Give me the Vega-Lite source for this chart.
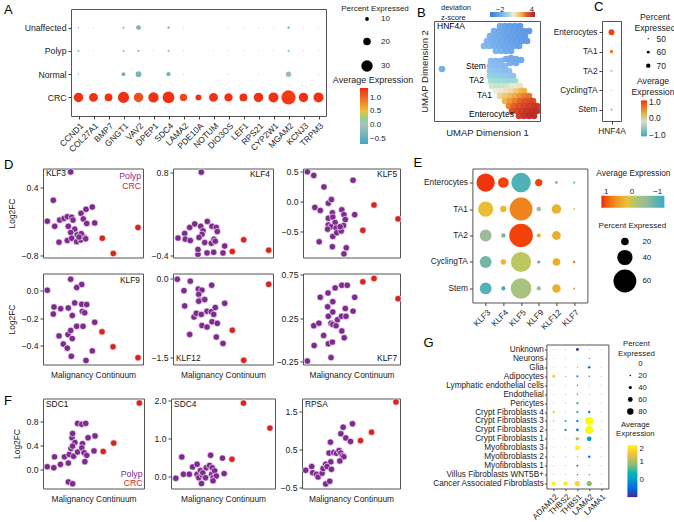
{
"$schema": "https://vega.github.io/schema/vega-lite/v6.json",
"padding": {"left": 3, "top": 0, "right": 0, "bottom": 0},
"background": "white",
"config": {
  "font": "Liberation Sans",
  "view": {"stroke": "#555", "strokeWidth": 1},
  "axis": {"grid": false, "domain": false, "tickColor": "#444", "tickSize": 3, "labelFontSize": 8.7, "labelColor": "#222", "titleFontSize": 8.4, "titleFontWeight": "normal", "titleColor": "#222", "labelPadding": 2},
  "legend": {"titleFontWeight": "normal", "titleFontSize": 8, "labelFontSize": 8, "titleColor": "#222", "labelColor": "#222", "titlePadding": 3},
  "title": {"fontSize": 13, "fontWeight": "normal", "anchor": "start", "frame": "group", "color": "#000", "baseline": "alphabetic"},
  "text": {"fontSize": 8.4}
},
"datasets": {
  "a": [
    {"gene":"CCND1","group":"CRC","pct":25,"avg":1.3},{"gene":"COL27A1","group":"CRC","pct":23.4,"avg":1.3},{"gene":"BMP7","group":"CRC","pct":20.4,"avg":1.3},{"gene":"GNGT1","group":"CRC","pct":29.7,"avg":1.3},{"gene":"VAV2","group":"CRC","pct":25,"avg":1.15},{"gene":"DPEP1","group":"CRC","pct":27.4,"avg":1.3},{"gene":"SDC4","group":"CRC","pct":31,"avg":1.3},{"gene":"LAMA2","group":"CRC","pct":19.4,"avg":1.2},{"gene":"PDE10A","group":"CRC","pct":15.7,"avg":1.3},{"gene":"NOTUM","group":"CRC","pct":23.4,"avg":1.3},{"gene":"DIO3OS","group":"CRC","pct":21.8,"avg":1.3},{"gene":"LEF1","group":"CRC","pct":21,"avg":1.3},{"gene":"RPS21","group":"CRC","pct":25,"avg":1.3},{"gene":"CYP2W1","group":"CRC","pct":26.4,"avg":1.3},{"gene":"MGAM2","group":"CRC","pct":37.4,"avg":1.25},{"gene":"KCNJ3","group":"CRC","pct":25,"avg":1.3},{"gene":"TRPM3","group":"CRC","pct":26.4,"avg":1.3},
    {"gene":"CCND1","group":"Unaffected","pct":3,"avg":-0.5},{"gene":"COL27A1","group":"Unaffected","pct":2.5,"avg":-0.5},{"gene":"GNGT1","group":"Unaffected","pct":5,"avg":-0.6},{"gene":"VAV2","group":"Unaffected","pct":13,"avg":-0.3},{"gene":"SDC4","group":"Unaffected","pct":6,"avg":-0.55},{"gene":"LAMA2","group":"Unaffected","pct":2.5,"avg":-0.5},{"gene":"DIO3OS","group":"Unaffected","pct":2.5,"avg":-0.5},{"gene":"LEF1","group":"Unaffected","pct":2.5,"avg":-0.5},{"gene":"RPS21","group":"Unaffected","pct":2.5,"avg":-0.5},{"gene":"CYP2W1","group":"Unaffected","pct":2.5,"avg":-0.5},{"gene":"MGAM2","group":"Unaffected","pct":6,"avg":-0.55},{"gene":"KCNJ3","group":"Unaffected","pct":2.5,"avg":-0.5},{"gene":"TRPM3","group":"Unaffected","pct":2.5,"avg":-0.5},
    {"gene":"CCND1","group":"Polyp","pct":4.5,"avg":-0.55},{"gene":"COL27A1","group":"Polyp","pct":2.5,"avg":-0.5},{"gene":"GNGT1","group":"Polyp","pct":4.5,"avg":-0.6},{"gene":"VAV2","group":"Polyp","pct":5,"avg":-0.65},{"gene":"DPEP1","group":"Polyp","pct":2.5,"avg":-0.5},{"gene":"SDC4","group":"Polyp","pct":5,"avg":-0.6},{"gene":"LAMA2","group":"Polyp","pct":2.5,"avg":-0.5},{"gene":"NOTUM","group":"Polyp","pct":2.5,"avg":-0.5},{"gene":"DIO3OS","group":"Polyp","pct":2.5,"avg":-0.5},{"gene":"LEF1","group":"Polyp","pct":2.5,"avg":-0.5},{"gene":"RPS21","group":"Polyp","pct":2.5,"avg":-0.5},{"gene":"CYP2W1","group":"Polyp","pct":2.5,"avg":-0.5},{"gene":"MGAM2","group":"Polyp","pct":5,"avg":-0.6},{"gene":"KCNJ3","group":"Polyp","pct":2.5,"avg":-0.5},{"gene":"TRPM3","group":"Polyp","pct":2.5,"avg":-0.5},
    {"gene":"CCND1","group":"Normal","pct":3,"avg":-0.5},{"gene":"GNGT1","group":"Normal","pct":10.5,"avg":-0.4},{"gene":"VAV2","group":"Normal","pct":15,"avg":-0.35},{"gene":"SDC4","group":"Normal","pct":11,"avg":-0.4},{"gene":"LAMA2","group":"Normal","pct":2.5,"avg":-0.5},{"gene":"DIO3OS","group":"Normal","pct":2.5,"avg":-0.5},{"gene":"RPS21","group":"Normal","pct":2.5,"avg":-0.5},{"gene":"MGAM2","group":"Normal","pct":14,"avg":-0.15},{"gene":"TRPM3","group":"Normal","pct":2.5,"avg":-0.5}
  ],
  "umap": [
    {"u1":66,"u2":95,"z":-2.0},{"u1":71,"u2":95,"z":-2.2},{"u1":76,"u2":95,"z":-2.3},{"u1":81,"u2":95,"z":-2.4},{"u1":86,"u2":95,"z":-2.5},
    {"u1":60,"u2":90,"z":-1.8},{"u1":65,"u2":90,"z":-2.0},{"u1":70,"u2":90,"z":-2.1},{"u1":75,"u2":90,"z":-2.2},{"u1":80,"u2":90,"z":-2.3},{"u1":85,"u2":90,"z":-2.4},{"u1":90,"u2":90,"z":-2.5},{"u1":95,"u2":90,"z":-2.6},
    {"u1":56,"u2":85,"z":-1.7},{"u1":61,"u2":85,"z":-1.8},{"u1":66,"u2":85,"z":-2.0},{"u1":71,"u2":85,"z":-2.1},{"u1":76,"u2":85,"z":-2.2},{"u1":81,"u2":85,"z":-2.3},{"u1":86,"u2":85,"z":-2.4},{"u1":91,"u2":85,"z":-2.5},
    {"u1":53,"u2":80,"z":-1.5},{"u1":58,"u2":80,"z":-1.7},{"u1":63,"u2":80,"z":-1.8},{"u1":68,"u2":80,"z":-2.0},{"u1":73,"u2":80,"z":-2.1},{"u1":78,"u2":80,"z":-2.2},{"u1":83,"u2":80,"z":-2.3},{"u1":88,"u2":80,"z":-2.4},{"u1":93,"u2":80,"z":-2.5},
    {"u1":50,"u2":75,"z":-1.4},{"u1":55,"u2":75,"z":-1.5},{"u1":60,"u2":75,"z":-1.7},{"u1":65,"u2":75,"z":-1.8},{"u1":70,"u2":75,"z":-2.0},{"u1":75,"u2":75,"z":-2.1},{"u1":80,"u2":75,"z":-2.2},{"u1":85,"u2":75,"z":-2.3},
    {"u1":62,"u2":70,"z":-1.6},{"u1":67,"u2":70,"z":-1.7},{"u1":72,"u2":70,"z":-1.9},{"u1":77,"u2":70,"z":-2.0},
    {"u1":72,"u2":62,"z":-1.9},{"u1":77,"u2":63,"z":-1.9},{"u1":82,"u2":62,"z":-1.9},{"u1":87,"u2":61,"z":-2.0},{"u1":76,"u2":58,"z":-1.8},{"u1":82,"u2":58,"z":-1.9},
    {"u1":8,"u2":52,"z":-1.8},
    {"u1":57,"u2":60,"z":-1.3},{"u1":62,"u2":60,"z":-1.4},{"u1":67,"u2":60,"z":-1.5},
    {"u1":56,"u2":55,"z":-1.1},{"u1":61,"u2":55,"z":-1.2},{"u1":66,"u2":55,"z":-1.3},{"u1":71,"u2":55,"z":-1.4},
    {"u1":56,"u2":50,"z":-0.9},{"u1":61,"u2":50,"z":-1.0},{"u1":66,"u2":50,"z":-1.1},{"u1":71,"u2":50,"z":-1.2},{"u1":75,"u2":50,"z":-1.2},
    {"u1":56,"u2":45,"z":-0.6},{"u1":61,"u2":45,"z":-0.7},{"u1":66,"u2":45,"z":-0.8},{"u1":71,"u2":45,"z":-0.9},{"u1":76,"u2":45,"z":-0.9},{"u1":79,"u2":45,"z":-1.0},
    {"u1":57,"u2":40,"z":-0.3},{"u1":62,"u2":40,"z":-0.4},{"u1":67,"u2":40,"z":-0.4},{"u1":72,"u2":40,"z":-0.5},{"u1":77,"u2":40,"z":-0.5},{"u1":81,"u2":40,"z":-0.4},
    {"u1":58,"u2":35,"z":0.1},{"u1":63,"u2":35,"z":0.0},{"u1":68,"u2":35,"z":0.0},{"u1":73,"u2":35,"z":0.1},{"u1":78,"u2":35,"z":0.3},{"u1":83,"u2":35,"z":0.6},{"u1":86,"u2":35,"z":0.8},
    {"u1":62,"u2":30,"z":0.5},{"u1":67,"u2":30,"z":0.6},{"u1":72,"u2":30,"z":0.8},{"u1":77,"u2":30,"z":1.0},{"u1":82,"u2":30,"z":1.4},{"u1":87,"u2":30,"z":1.8},{"u1":90,"u2":30,"z":2.0},
    {"u1":66,"u2":25,"z":1.2},{"u1":71,"u2":25,"z":1.5},{"u1":76,"u2":25,"z":1.8},{"u1":81,"u2":25,"z":2.1},{"u1":86,"u2":25,"z":2.4},{"u1":91,"u2":25,"z":2.6},{"u1":95,"u2":25,"z":2.7},
    {"u1":71,"u2":20,"z":2.0},{"u1":76,"u2":20,"z":2.3},{"u1":81,"u2":20,"z":2.6},{"u1":86,"u2":20,"z":2.9},{"u1":91,"u2":20,"z":3.1},{"u1":96,"u2":20,"z":3.3},{"u1":99,"u2":20,"z":3.3},
    {"u1":75,"u2":15,"z":2.6},{"u1":80,"u2":15,"z":2.9},{"u1":85,"u2":15,"z":3.2},{"u1":90,"u2":15,"z":3.5},{"u1":95,"u2":15,"z":3.7},{"u1":100,"u2":15,"z":3.8},{"u1":103,"u2":15,"z":3.8},
    {"u1":78,"u2":10,"z":3.2},{"u1":83,"u2":10,"z":3.5},{"u1":88,"u2":10,"z":3.8},{"u1":93,"u2":10,"z":4.0},{"u1":98,"u2":10,"z":4.1},{"u1":103,"u2":10,"z":4.1},
    {"u1":85,"u2":5,"z":3.7},{"u1":90,"u2":5,"z":4.0},{"u1":95,"u2":5,"z":4.2},{"u1":100,"u2":5,"z":4.2}
  ],
  "umaplab": [
    {"label":"HNF4A","u1":3,"u2":95},{"label":"Stem","u1":32,"u2":55},{"label":"TA2","u1":35,"u2":41},{"label":"TA1","u1":43,"u2":26},{"label":"Enterocytes","u1":35,"u2":7}
  ],
  "c": [
    {"cell":"Enterocytes","gene":"HNF4A","pct":80,"avg":1.0},{"cell":"TA1","gene":"HNF4A","pct":64.5,"avg":0.6},{"cell":"TA2","gene":"HNF4A","pct":55.7,"avg":0.15},{"cell":"CyclingTA","gene":"HNF4A","pct":52.8,"avg":-0.2},{"cell":"Stem","gene":"HNF4A","pct":52.8,"avg":-0.9}
  ],
  "klf3": [
    {"x":27.7,"y":0.68,"grp":"Polyp"},{"x":10.3,"y":0.18,"grp":"Polyp"},{"x":4.3,"y":-0.19,"grp":"Polyp"},{"x":11.7,"y":-0.28,"grp":"Polyp"},{"x":16.7,"y":-0.17,"grp":"Polyp"},{"x":21,"y":-0.14,"grp":"Polyp"},{"x":24.3,"y":-0.11,"grp":"Polyp"},{"x":28.7,"y":-0.12,"grp":"Polyp"},{"x":30,"y":-0.17,"grp":"Polyp"},{"x":25.3,"y":-0.28,"grp":"Polyp"},{"x":31.7,"y":-0.33,"grp":"Polyp"},{"x":27.7,"y":-0.39,"grp":"Polyp"},{"x":34.3,"y":-0.43,"grp":"Polyp"},{"x":16,"y":-0.56,"grp":"Polyp"},{"x":24.3,"y":-0.53,"grp":"Polyp"},{"x":28.7,"y":-0.49,"grp":"Polyp"},{"x":33.7,"y":-0.55,"grp":"Polyp"},{"x":37.7,"y":-0.52,"grp":"Polyp"},{"x":41,"y":-0.47,"grp":"Polyp"},{"x":42.7,"y":-0.5,"grp":"Polyp"},{"x":38,"y":-0.05,"grp":"Polyp"},{"x":43,"y":0.02,"grp":"Polyp"},{"x":49.3,"y":0.06,"grp":"Polyp"},{"x":40.3,"y":-0.15,"grp":"Polyp"},{"x":43.7,"y":-0.23,"grp":"Polyp"},{"x":51.7,"y":-0.22,"grp":"Polyp"},{"x":38.3,"y":-0.41,"grp":"Polyp"},{"x":36,"y":-0.47,"grp":"Polyp"},
    {"x":59.3,"y":-0.49,"grp":"CRC"},{"x":70.3,"y":-0.76,"grp":"CRC"},{"x":95,"y":-0.3,"grp":"CRC"}
  ],
  "klf4": [
    {"x":28.3,"y":0.8,"grp":"Polyp"},{"x":5,"y":-0.155,"grp":"Polyp"},{"x":11.7,"y":-0.087,"grp":"Polyp"},{"x":12.3,"y":-0.17,"grp":"Polyp"},{"x":17.3,"y":-0.19,"grp":"Polyp"},{"x":16.7,"y":0.0,"grp":"Polyp"},{"x":21.7,"y":0.05,"grp":"Polyp"},{"x":27.7,"y":0.015,"grp":"Polyp"},{"x":30,"y":-0.05,"grp":"Polyp"},{"x":29,"y":-0.1,"grp":"Polyp"},{"x":26,"y":-0.145,"grp":"Polyp"},{"x":31.7,"y":-0.22,"grp":"Polyp"},{"x":34.3,"y":0.087,"grp":"Polyp"},{"x":39,"y":0.015,"grp":"Polyp"},{"x":43.3,"y":0.0,"grp":"Polyp"},{"x":44.3,"y":-0.06,"grp":"Polyp"},{"x":38.3,"y":-0.23,"grp":"Polyp"},{"x":41,"y":-0.17,"grp":"Polyp"},{"x":42.3,"y":-0.2,"grp":"Polyp"},{"x":25,"y":-0.39,"grp":"Polyp"},{"x":34,"y":-0.37,"grp":"Polyp"},{"x":40.7,"y":-0.36,"grp":"Polyp"},{"x":50,"y":-0.37,"grp":"Polyp"},{"x":51.7,"y":-0.27,"grp":"Polyp"},{"x":25,"y":-0.32,"grp":"Polyp"},
    {"x":59.3,"y":-0.35,"grp":"CRC"},{"x":70.7,"y":-0.18,"grp":"CRC"},{"x":95.7,"y":-0.33,"grp":"CRC"}
  ],
  "klf5": [
    {"x":4.5,"y":0.49,"grp":"Polyp"},{"x":11.1,"y":0.43,"grp":"Polyp"},{"x":21.6,"y":0.24,"grp":"Polyp"},{"x":51.6,"y":0.35,"grp":"Polyp"},{"x":12.2,"y":-0.1,"grp":"Polyp"},{"x":17.8,"y":-0.15,"grp":"Polyp"},{"x":26.1,"y":-0.03,"grp":"Polyp"},{"x":29.3,"y":0.03,"grp":"Polyp"},{"x":26.1,"y":-0.28,"grp":"Polyp"},{"x":30.3,"y":-0.19,"grp":"Polyp"},{"x":30.7,"y":-0.26,"grp":"Polyp"},{"x":33.1,"y":-0.35,"grp":"Polyp"},{"x":26.1,"y":-0.39,"grp":"Polyp"},{"x":28.9,"y":-0.42,"grp":"Polyp"},{"x":25.4,"y":-0.46,"grp":"Polyp"},{"x":34.1,"y":-0.44,"grp":"Polyp"},{"x":30.7,"y":-0.58,"grp":"Polyp"},{"x":34.8,"y":-0.52,"grp":"Polyp"},{"x":39.4,"y":-0.49,"grp":"Polyp"},{"x":40,"y":-0.14,"grp":"Polyp"},{"x":42.2,"y":-0.22,"grp":"Polyp"},{"x":43.6,"y":-0.3,"grp":"Polyp"},{"x":41.8,"y":-0.4,"grp":"Polyp"},{"x":38.3,"y":-0.42,"grp":"Polyp"},{"x":53.3,"y":-0.22,"grp":"Polyp"},{"x":16.7,"y":-0.67,"grp":"Polyp"},{"x":30.3,"y":-0.75,"grp":"Polyp"},{"x":44.6,"y":-0.77,"grp":"Polyp"},{"x":42.2,"y":-0.87,"grp":"Polyp"},
    {"x":61.7,"y":-0.48,"grp":"CRC"},{"x":73.2,"y":-0.06,"grp":"CRC"},{"x":98,"y":-0.29,"grp":"CRC"}
  ],
  "klf9": [
    {"x":4.3,"y":0.005,"grp":"Polyp"},{"x":27.7,"y":0.086,"grp":"Polyp"},{"x":38.7,"y":0.047,"grp":"Polyp"},{"x":33.7,"y":0.025,"grp":"Polyp"},{"x":11,"y":-0.118,"grp":"Polyp"},{"x":10.3,"y":-0.17,"grp":"Polyp"},{"x":17.7,"y":-0.13,"grp":"Polyp"},{"x":25.3,"y":-0.125,"grp":"Polyp"},{"x":31.7,"y":-0.088,"grp":"Polyp"},{"x":38.7,"y":-0.098,"grp":"Polyp"},{"x":43.7,"y":-0.1,"grp":"Polyp"},{"x":29.3,"y":-0.18,"grp":"Polyp"},{"x":39.3,"y":-0.15,"grp":"Polyp"},{"x":41.7,"y":-0.16,"grp":"Polyp"},{"x":16,"y":-0.33,"grp":"Polyp"},{"x":20.3,"y":-0.39,"grp":"Polyp"},{"x":24.3,"y":-0.42,"grp":"Polyp"},{"x":25,"y":-0.32,"grp":"Polyp"},{"x":27.7,"y":-0.29,"grp":"Polyp"},{"x":29.3,"y":-0.35,"grp":"Polyp"},{"x":33.7,"y":-0.26,"grp":"Polyp"},{"x":40,"y":-0.26,"grp":"Polyp"},{"x":28.3,"y":-0.48,"grp":"Polyp"},{"x":43,"y":-0.51,"grp":"Polyp"},{"x":49.3,"y":-0.44,"grp":"Polyp"},{"x":51.7,"y":-0.23,"grp":"Polyp"},
    {"x":59,"y":-0.3,"grp":"CRC"},{"x":70,"y":-0.41,"grp":"CRC"},{"x":95,"y":-0.49,"grp":"CRC"}
  ],
  "klf12": [
    {"x":4.3,"y":-0.013,"grp":"Polyp"},{"x":11,"y":-0.23,"grp":"Polyp"},{"x":11.7,"y":-0.52,"grp":"Polyp"},{"x":17.3,"y":-0.05,"grp":"Polyp"},{"x":25.3,"y":-0.2,"grp":"Polyp"},{"x":29,"y":-0.22,"grp":"Polyp"},{"x":25.7,"y":-0.3,"grp":"Polyp"},{"x":26.7,"y":-0.41,"grp":"Polyp"},{"x":31.7,"y":-0.4,"grp":"Polyp"},{"x":25.7,"y":-0.43,"grp":"Polyp"},{"x":38.7,"y":-0.127,"grp":"Polyp"},{"x":21,"y":-0.73,"grp":"Polyp"},{"x":23.3,"y":-0.66,"grp":"Polyp"},{"x":28.3,"y":-0.68,"grp":"Polyp"},{"x":34,"y":-0.62,"grp":"Polyp"},{"x":38.3,"y":-0.63,"grp":"Polyp"},{"x":40.7,"y":-0.68,"grp":"Polyp"},{"x":42.3,"y":-0.55,"grp":"Polyp"},{"x":51.7,"y":-0.47,"grp":"Polyp"},{"x":29,"y":-0.89,"grp":"Polyp"},{"x":34,"y":-0.92,"grp":"Polyp"},{"x":39,"y":-0.82,"grp":"Polyp"},{"x":44.3,"y":-0.85,"grp":"Polyp"},{"x":16.7,"y":-1.06,"grp":"Polyp"},{"x":43.3,"y":-1.11,"grp":"Polyp"},{"x":50,"y":-1.23,"grp":"Polyp"},
    {"x":59.3,"y":-0.98,"grp":"CRC"},{"x":70.7,"y":-1.55,"grp":"CRC"},{"x":95.7,"y":-0.11,"grp":"CRC"}
  ],
  "klf7": [
    {"x":4.5,"y":-0.25,"grp":"Polyp"},{"x":11.5,"y":-0.07,"grp":"Polyp"},{"x":11.1,"y":0.16,"grp":"Polyp"},{"x":16.4,"y":0.19,"grp":"Polyp"},{"x":17.8,"y":0.49,"grp":"Polyp"},{"x":21.3,"y":0.047,"grp":"Polyp"},{"x":25.8,"y":0.54,"grp":"Polyp"},{"x":25.4,"y":0.38,"grp":"Polyp"},{"x":26.1,"y":0.27,"grp":"Polyp"},{"x":26.1,"y":-0.05,"grp":"Polyp"},{"x":30.3,"y":-0.03,"grp":"Polyp"},{"x":28.9,"y":-0.21,"grp":"Polyp"},{"x":30.7,"y":0.44,"grp":"Polyp"},{"x":30.7,"y":0.32,"grp":"Polyp"},{"x":28.9,"y":0.19,"grp":"Polyp"},{"x":30.7,"y":0.175,"grp":"Polyp"},{"x":33.1,"y":0.6,"grp":"Polyp"},{"x":34.1,"y":0.16,"grp":"Polyp"},{"x":35.5,"y":0.23,"grp":"Polyp"},{"x":40,"y":0.63,"grp":"Polyp"},{"x":39.7,"y":0.27,"grp":"Polyp"},{"x":40,"y":0.1,"grp":"Polyp"},{"x":42.5,"y":0.02,"grp":"Polyp"},{"x":43.6,"y":0.36,"grp":"Polyp"},{"x":44.3,"y":0.27,"grp":"Polyp"},{"x":45.6,"y":0.63,"grp":"Polyp"},{"x":51.6,"y":0.33,"grp":"Polyp"},{"x":53.3,"y":0.49,"grp":"Polyp"},
    {"x":61.7,"y":0.67,"grp":"CRC"},{"x":73.2,"y":0.71,"grp":"CRC"},{"x":98,"y":0.475,"grp":"CRC"}
  ],
  "sdc1": [
    {"x":4.2,"y":0.045,"grp":"Polyp"},{"x":10.7,"y":0.028,"grp":"Polyp"},{"x":11.4,"y":0.21,"grp":"Polyp"},{"x":17.3,"y":0.084,"grp":"Polyp"},{"x":21.2,"y":0.21,"grp":"Polyp"},{"x":25.1,"y":0.106,"grp":"Polyp"},{"x":26,"y":0.25,"grp":"Polyp"},{"x":27.7,"y":0.35,"grp":"Polyp"},{"x":28.7,"y":0.53,"grp":"Polyp"},{"x":29.3,"y":0.6,"grp":"Polyp"},{"x":30.3,"y":0.22,"grp":"Polyp"},{"x":31.6,"y":0.45,"grp":"Polyp"},{"x":29.3,"y":0.39,"grp":"Polyp"},{"x":34.2,"y":0.77,"grp":"Polyp"},{"x":38.4,"y":0.755,"grp":"Polyp"},{"x":42.3,"y":0.77,"grp":"Polyp"},{"x":34.2,"y":0.29,"grp":"Polyp"},{"x":39.1,"y":0.43,"grp":"Polyp"},{"x":38.4,"y":0.36,"grp":"Polyp"},{"x":40.7,"y":0.28,"grp":"Polyp"},{"x":43.3,"y":0.235,"grp":"Polyp"},{"x":44.6,"y":0.53,"grp":"Polyp"},{"x":41.4,"y":0.13,"grp":"Polyp"},{"x":50.5,"y":0.31,"grp":"Polyp"},{"x":51.5,"y":0.56,"grp":"Polyp"},{"x":25.1,"y":-0.21,"grp":"Polyp"},{"x":29.3,"y":-0.24,"grp":"Polyp"},
    {"x":59.6,"y":0.3,"grp":"CRC"},{"x":70,"y":0.44,"grp":"CRC"},{"x":95.4,"y":1.11,"grp":"CRC"}
  ],
  "sdc4": [
    {"x":4.6,"y":-0.035,"grp":"Polyp"},{"x":10.4,"y":0.52,"grp":"Polyp"},{"x":12,"y":0.07,"grp":"Polyp"},{"x":17.6,"y":0.07,"grp":"Polyp"},{"x":20.8,"y":0.26,"grp":"Polyp"},{"x":25.1,"y":0.33,"grp":"Polyp"},{"x":25.1,"y":0.07,"grp":"Polyp"},{"x":26.7,"y":-0.02,"grp":"Polyp"},{"x":28.3,"y":0.17,"grp":"Polyp"},{"x":29.3,"y":-0.17,"grp":"Polyp"},{"x":30,"y":0.05,"grp":"Polyp"},{"x":30.6,"y":0.11,"grp":"Polyp"},{"x":33.2,"y":-0.02,"grp":"Polyp"},{"x":33.9,"y":0.24,"grp":"Polyp"},{"x":37.1,"y":0.3,"grp":"Polyp"},{"x":38.1,"y":0.565,"grp":"Polyp"},{"x":39.1,"y":0.07,"grp":"Polyp"},{"x":39.7,"y":0.24,"grp":"Polyp"},{"x":40.4,"y":-0.02,"grp":"Polyp"},{"x":42,"y":0.16,"grp":"Polyp"},{"x":43.6,"y":0.026,"grp":"Polyp"},{"x":40.4,"y":-0.1,"grp":"Polyp"},{"x":49.5,"y":0.49,"grp":"Polyp"},{"x":51.1,"y":0.087,"grp":"Polyp"},
    {"x":58.6,"y":0.46,"grp":"CRC"},{"x":69.7,"y":1.92,"grp":"CRC"},{"x":95.1,"y":1.27,"grp":"CRC"}
  ],
  "rpsa": [
    {"x":3.8,"y":-0.044,"grp":"Polyp"},{"x":9.9,"y":0.053,"grp":"Polyp"},{"x":10.9,"y":-0.106,"grp":"Polyp"},{"x":14.7,"y":-0.15,"grp":"Polyp"},{"x":16.4,"y":-0.22,"grp":"Polyp"},{"x":20.5,"y":-0.12,"grp":"Polyp"},{"x":24.2,"y":-0.4,"grp":"Polyp"},{"x":28.3,"y":-0.33,"grp":"Polyp"},{"x":21.5,"y":0.0,"grp":"Polyp"},{"x":24.2,"y":0.115,"grp":"Polyp"},{"x":29.4,"y":0.176,"grp":"Polyp"},{"x":25.6,"y":0.053,"grp":"Polyp"},{"x":27.6,"y":0.405,"grp":"Polyp"},{"x":29,"y":0.69,"grp":"Polyp"},{"x":32.4,"y":0.42,"grp":"Polyp"},{"x":35.2,"y":0.4,"grp":"Polyp"},{"x":37.9,"y":0.47,"grp":"Polyp"},{"x":39.6,"y":0.405,"grp":"Polyp"},{"x":41.3,"y":0.335,"grp":"Polyp"},{"x":42.7,"y":0.31,"grp":"Polyp"},{"x":38.6,"y":0.2,"grp":"Polyp"},{"x":39.6,"y":0.91,"grp":"Polyp"},{"x":42,"y":1.08,"grp":"Polyp"},{"x":44.7,"y":0.8,"grp":"Polyp"},{"x":49.5,"y":0.71,"grp":"Polyp"},{"x":51.5,"y":1.17,"grp":"Polyp"},{"x":30,"y":-0.02,"grp":"Polyp"},
    {"x":59.7,"y":0.73,"grp":"CRC"},{"x":71,"y":0.95,"grp":"CRC"},{"x":95.9,"y":1.74,"grp":"CRC"}
  ],
  "e": [
    {"cell":"Enterocytes","gene":"KLF3","pct":48,"avg":1.15},{"cell":"Enterocytes","gene":"KLF4","pct":28,"avg":1.1},{"cell":"Enterocytes","gene":"KLF5","pct":51,"avg":-1.05},{"cell":"Enterocytes","gene":"KLF9","pct":19,"avg":1.1},{"cell":"Enterocytes","gene":"KLF12","pct":7,"avg":-1.0},{"cell":"Enterocytes","gene":"KLF7","pct":6,"avg":-1.0},
    {"cell":"TA1","gene":"KLF3","pct":40,"avg":0.25},{"cell":"TA1","gene":"KLF4","pct":17,"avg":0.3},{"cell":"TA1","gene":"KLF5","pct":60,"avg":0.75},{"cell":"TA1","gene":"KLF9","pct":12,"avg":-0.5},{"cell":"TA1","gene":"KLF12","pct":25,"avg":0.35},{"cell":"TA1","gene":"KLF7","pct":5,"avg":0.25},
    {"cell":"TA2","gene":"KLF3","pct":31,"avg":-0.5},{"cell":"TA2","gene":"KLF4","pct":12,"avg":-0.75},{"cell":"TA2","gene":"KLF5","pct":62,"avg":1.1},{"cell":"TA2","gene":"KLF9","pct":11,"avg":0.4},{"cell":"TA2","gene":"KLF12","pct":23,"avg":0.4},
    {"cell":"CyclingTA","gene":"KLF3","pct":31,"avg":-0.8},{"cell":"CyclingTA","gene":"KLF4","pct":14,"avg":0.35},{"cell":"CyclingTA","gene":"KLF5","pct":53,"avg":-0.05},{"cell":"CyclingTA","gene":"KLF9","pct":8,"avg":-1.1},{"cell":"CyclingTA","gene":"KLF12","pct":20,"avg":0.4},{"cell":"CyclingTA","gene":"KLF7","pct":6,"avg":0.9},
    {"cell":"Stem","gene":"KLF3","pct":31,"avg":-1.0},{"cell":"Stem","gene":"KLF4","pct":11,"avg":-1.2},{"cell":"Stem","gene":"KLF5","pct":54,"avg":-0.25},{"cell":"Stem","gene":"KLF9","pct":11,"avg":-0.5},{"cell":"Stem","gene":"KLF12","pct":22,"avg":0.4},{"cell":"Stem","gene":"KLF7","pct":5,"avg":0.7}
  ],
  "g": [
    {"cell":"Unknown","gene":"ADAM12","pct":10,"avg":-0.3},{"cell":"Unknown","gene":"THBS2","pct":10,"avg":-0.3},{"cell":"Unknown","gene":"THBS1","pct":37,"avg":-0.9},{"cell":"Unknown","gene":"LAMA2","pct":10,"avg":-0.3},{"cell":"Unknown","gene":"LAMA1","pct":10,"avg":-0.3},
    {"cell":"Neurons","gene":"ADAM12","pct":10,"avg":-0.3},{"cell":"Neurons","gene":"THBS2","pct":10,"avg":-0.3},{"cell":"Neurons","gene":"THBS1","pct":10,"avg":-0.3},{"cell":"Neurons","gene":"LAMA2","pct":15,"avg":-0.4},{"cell":"Neurons","gene":"LAMA1","pct":10,"avg":1.5},
    {"cell":"Glia","gene":"ADAM12","pct":10,"avg":-0.3},{"cell":"Glia","gene":"THBS2","pct":10,"avg":-0.3},{"cell":"Glia","gene":"THBS1","pct":12,"avg":-0.8},{"cell":"Glia","gene":"LAMA2","pct":33,"avg":-0.3},{"cell":"Glia","gene":"LAMA1","pct":10,"avg":-0.3},
    {"cell":"Adipocytes","gene":"ADAM12","pct":37,"avg":1.6},{"cell":"Adipocytes","gene":"THBS2","pct":13,"avg":-0.1},{"cell":"Adipocytes","gene":"THBS1","pct":26,"avg":-0.3},{"cell":"Adipocytes","gene":"LAMA2","pct":17,"avg":-0.6},{"cell":"Adipocytes","gene":"LAMA1","pct":10,"avg":-0.3},
    {"cell":"Lymphatic endothelial cells","gene":"ADAM12","pct":10,"avg":-0.3},{"cell":"Lymphatic endothelial cells","gene":"THBS2","pct":10,"avg":-0.3},{"cell":"Lymphatic endothelial cells","gene":"THBS1","pct":15,"avg":-0.8},{"cell":"Lymphatic endothelial cells","gene":"LAMA2","pct":10,"avg":-0.3},{"cell":"Lymphatic endothelial cells","gene":"LAMA1","pct":10,"avg":-0.3},
    {"cell":"Endothelial","gene":"ADAM12","pct":10,"avg":-0.3},{"cell":"Endothelial","gene":"THBS2","pct":10,"avg":-0.3},{"cell":"Endothelial","gene":"THBS1","pct":15,"avg":-0.8},{"cell":"Endothelial","gene":"LAMA2","pct":10,"avg":-0.3},{"cell":"Endothelial","gene":"LAMA1","pct":10,"avg":-0.3},
    {"cell":"Pericytes","gene":"ADAM12","pct":10,"avg":-0.3},{"cell":"Pericytes","gene":"THBS2","pct":12,"avg":0.3},{"cell":"Pericytes","gene":"THBS1","pct":30,"avg":0.5},{"cell":"Pericytes","gene":"LAMA2","pct":10,"avg":-0.3},{"cell":"Pericytes","gene":"LAMA1","pct":10,"avg":-0.3},
    {"cell":"Crypt Fibroblasts 4","gene":"ADAM12","pct":30,"avg":1.6},{"cell":"Crypt Fibroblasts 4","gene":"THBS2","pct":10,"avg":-0.3},{"cell":"Crypt Fibroblasts 4","gene":"THBS1","pct":30,"avg":0.6},{"cell":"Crypt Fibroblasts 4","gene":"LAMA2","pct":30,"avg":-0.3},{"cell":"Crypt Fibroblasts 4","gene":"LAMA1","pct":10,"avg":-0.3},
    {"cell":"Crypt Fibroblasts 3","gene":"ADAM12","pct":13,"avg":-0.5},{"cell":"Crypt Fibroblasts 3","gene":"THBS2","pct":26,"avg":0.3},{"cell":"Crypt Fibroblasts 3","gene":"THBS1","pct":30,"avg":0.0},{"cell":"Crypt Fibroblasts 3","gene":"LAMA2","pct":100,"avg":2.0},{"cell":"Crypt Fibroblasts 3","gene":"LAMA1","pct":10,"avg":-0.3},
    {"cell":"Crypt Fibroblasts 2","gene":"ADAM12","pct":11,"avg":-0.5},{"cell":"Crypt Fibroblasts 2","gene":"THBS2","pct":28,"avg":-0.2},{"cell":"Crypt Fibroblasts 2","gene":"THBS1","pct":33,"avg":-0.4},{"cell":"Crypt Fibroblasts 2","gene":"LAMA2","pct":105,"avg":2.0},{"cell":"Crypt Fibroblasts 2","gene":"LAMA1","pct":10,"avg":-0.3},
    {"cell":"Crypt Fibroblasts 1","gene":"ADAM12","pct":10,"avg":-0.3},{"cell":"Crypt Fibroblasts 1","gene":"THBS2","pct":10,"avg":-0.3},{"cell":"Crypt Fibroblasts 1","gene":"THBS1","pct":44,"avg":1.05},{"cell":"Crypt Fibroblasts 1","gene":"LAMA2","pct":59,"avg":0.1},{"cell":"Crypt Fibroblasts 1","gene":"LAMA1","pct":10,"avg":-0.3},
    {"cell":"Myofibroblasts 3","gene":"ADAM12","pct":10,"avg":-0.3},{"cell":"Myofibroblasts 3","gene":"THBS2","pct":10,"avg":-0.3},{"cell":"Myofibroblasts 3","gene":"THBS1","pct":63,"avg":1.95},{"cell":"Myofibroblasts 3","gene":"LAMA2","pct":10,"avg":-0.3},{"cell":"Myofibroblasts 3","gene":"LAMA1","pct":10,"avg":-0.3},
    {"cell":"Myofibroblasts 2","gene":"ADAM12","pct":10,"avg":-0.3},{"cell":"Myofibroblasts 2","gene":"THBS2","pct":10,"avg":-0.3},{"cell":"Myofibroblasts 2","gene":"THBS1","pct":12,"avg":-0.8},{"cell":"Myofibroblasts 2","gene":"LAMA2","pct":33,"avg":-0.3},{"cell":"Myofibroblasts 2","gene":"LAMA1","pct":10,"avg":-0.3},
    {"cell":"Myofibroblasts 1","gene":"ADAM12","pct":10,"avg":-0.3},{"cell":"Myofibroblasts 1","gene":"THBS2","pct":10,"avg":-0.3},{"cell":"Myofibroblasts 1","gene":"THBS1","pct":22,"avg":-0.8},{"cell":"Myofibroblasts 1","gene":"LAMA2","pct":10,"avg":-0.3},{"cell":"Myofibroblasts 1","gene":"LAMA1","pct":10,"avg":-0.3},
    {"cell":"Villus Fibroblasts WNT5B+","gene":"ADAM12","pct":10,"avg":-0.3},{"cell":"Villus Fibroblasts WNT5B+","gene":"THBS2","pct":10,"avg":-0.3},{"cell":"Villus Fibroblasts WNT5B+","gene":"THBS1","pct":15,"avg":-0.8},{"cell":"Villus Fibroblasts WNT5B+","gene":"LAMA2","pct":15,"avg":-0.8},{"cell":"Villus Fibroblasts WNT5B+","gene":"LAMA1","pct":10,"avg":-0.3},
    {"cell":"Cancer Associated Fibroblasts","gene":"ADAM12","pct":52,"avg":1.9},{"cell":"Cancer Associated Fibroblasts","gene":"THBS2","pct":55,"avg":1.85},{"cell":"Cancer Associated Fibroblasts","gene":"THBS1","pct":66,"avg":1.7},{"cell":"Cancer Associated Fibroblasts","gene":"LAMA2","pct":66,"avg":0.9},{"cell":"Cancer Associated Fibroblasts","gene":"LAMA1","pct":22,"avg":1.9}
  ]
},
"resolve": {"scale": {"color": "independent", "size": "independent"}},
"spacing": 1.5,
"vconcat": [
  {"resolve": {"scale": {"color": "independent", "size": "independent"}}, "spacing": 1, "hconcat": [
    {"bounds": "flush", "spacing": 27, "resolve": {"scale": {"color": "independent", "size": "independent"}}, "hconcat": [
      {"width": 1, "height": 1, "view": {"stroke": null}, "data": {"values": [{"s": 0}]}, "mark": {"type": "point", "opacity": 0}, "encoding": {}},
      {"width": 255, "height": 107,
       "title": {"text": "A", "anchor": "start", "frame": "group", "dx": -67, "offset": -11.5},
       "data": {"name": "a"},
       "mark": {"type": "circle", "opacity": 1},
       "encoding": {
         "x": {"field": "gene", "type": "nominal", "sort": ["CCND1","COL27A1","BMP7","GNGT1","VAV2","DPEP1","SDC4","LAMA2","PDE10A","NOTUM","DIO3OS","LEF1","RPS21","CYP2W1","MGAM2","KCNJ3","TRPM3"], "scale": {"type": "point", "padding": 0.5}, "axis": {"title": null, "labelAngle": -45, "labelFontSize": 8.5}},
         "y": {"field": "group", "type": "nominal", "sort": ["Unaffected","Polyp","Normal","CRC"], "scale": {"type": "point", "padding": 0.8}, "axis": {"title": null, "labelFontSize": 8.7}},
         "size": {"field": "pct", "type": "quantitative", "scale": {"type": "pow", "exponent": 2, "domain": [0, 36], "range": [0, 186]}, "legend": {"title": "Percent Expressed", "orient": "none", "legendX": 270, "legendY": -4, "values": [10, 20, 30], "symbolFillColor": "black", "symbolStrokeColor": "black", "symbolStrokeWidth": 0, "titleAnchor": "middle", "rowPadding": 14.5, "labelOffset": 8, "titlePadding": 2, "titleFontSize": 8}},
         "color": {"field": "avg", "type": "quantitative", "scale": {"domain": [-0.7, 0.0, 0.5, 1.0, 1.35], "range": ["#3fa6c5", "#a9c1bb", "#e9c23a", "#f0642a", "#f2220f"]}, "legend": {"title": "Average Expression", "orient": "none", "legendX": 262, "legendY": 67, "values": [-0.5, 0, 0.5, 1], "format": ".1f", "gradientLength": 56, "gradientThickness": 8, "titleAnchor": "middle", "direction": "vertical", "titleFontSize": 9, "titlePadding": 3}}
       }}
    ]},
    {"bounds": "flush", "spacing": 11, "resolve": {"scale": {"color": "independent", "size": "independent"}}, "vconcat": [
      {"width": 1, "height": 1, "view": {"stroke": null}, "data": {"values": [{"s": 0}]}, "mark": {"type": "point", "opacity": 0}, "encoding": {}},
      {"bounds": "flush", "spacing": 62, "resolve": {"scale": {"color": "independent", "size": "independent"}}, "hconcat": [
        {"width": 106, "height": 100,
         "title": {"text": "B", "anchor": "start", "frame": "group", "dx": -17, "offset": -7.5},
         "layer": [
           {"data": {"name": "umap"}, "mark": {"type": "circle", "size": 44, "opacity": 0.95},
            "encoding": {
              "x": {"field": "u1", "type": "quantitative", "scale": {"domain": [0, 106], "nice": false}, "axis": {"title": "UMAP Dimension 1", "labels": false, "ticks": false, "titlePadding": 6, "titleFontSize": 9.5}},
              "y": {"field": "u2", "type": "quantitative", "scale": {"domain": [0, 100], "nice": false}, "axis": {"title": "UMAP Dimension 2", "labels": false, "ticks": false, "titlePadding": 5, "titleFontSize": 9.5}},
              "color": {"field": "z", "type": "quantitative", "scale": {"domain": [-3.9, -1.0, 0.5, 2.0, 3.0, 4.6], "range": ["#2f6fd8", "#8fc0f0", "#f0ecdc", "#f0b040", "#e05020", "#b01020"]}, "legend": {"title": ["deviation", "z-score"], "orient": "none", "legendX": 7, "legendY": -9, "direction": "horizontal", "titleOrient": "left", "titleAngle": 0, "titleAlign": "left", "titleBaseline": "alphabetic", "titleFontSize": 7.5, "gradientLength": 45, "gradientThickness": 5, "values": [-2, 4], "labelOffset": -11, "labelFontSize": 7.5, "titlePadding": 18}}
            }},
           {"data": {"name": "umaplab"}, "mark": {"type": "text", "align": "left", "baseline": "middle", "fontSize": 8.5},
            "encoding": {"x": {"field": "u1", "type": "quantitative"}, "y": {"field": "u2", "type": "quantitative"}, "text": {"field": "label"}}}
         ]},
        {"width": 19, "height": 100,
         "title": {"text": "C", "anchor": "start", "frame": "group", "dx": -8, "offset": -0.5},
         "data": {"name": "c"},
         "mark": {"type": "circle", "opacity": 1},
         "encoding": {
           "x": {"field": "gene", "type": "nominal", "scale": {"type": "point", "padding": 0.5}, "axis": {"title": null, "labelAngle": 0, "labelFontSize": 8.4}},
           "y": {"field": "cell", "type": "nominal", "sort": ["Enterocytes","TA1","TA2","CyclingTA","Stem"], "scale": {"type": "point", "padding": 0.58}, "axis": {"title": null, "labelFontSize": 8.3}},
           "size": {"field": "pct", "type": "quantitative", "scale": {"domain": [41, 50, 60, 70, 80], "range": [0, 1.8, 8, 19, 35]}, "legend": {"title": ["Percent", "Expressed"], "orient": "none", "legendX": 32, "legendY": -8, "values": [50, 60, 70], "symbolFillColor": "black", "symbolStrokeColor": "black", "symbolStrokeWidth": 0, "titleAnchor": "middle", "rowPadding": 4.5, "labelFontSize": 8.5, "titleFontSize": 8.7, "titlePadding": 2}},
           "color": {"field": "avg", "type": "quantitative", "scale": {"domain": [-1.1, -0.2, 0.2, 0.6, 1.1], "range": ["#3fa6c5", "#d8dcd6", "#d8c45a", "#e8822a", "#ee2a14"]}, "legend": {"title": ["Average", "Expression"], "orient": "none", "legendX": 30, "legendY": 56, "values": [-1, 0, 1], "format": ".1f", "gradientLength": 36, "gradientThickness": 6, "titleAnchor": "middle", "direction": "vertical", "labelFontSize": 8.5, "titleFontSize": 8.7, "titlePadding": 4}}
         }}
      ]}
    ]}
  ]},
  {"resolve": {"scale": {"color": "independent", "size": "independent"}}, "spacing": 8.4, "hconcat": [
    {"resolve": {"scale": {"color": "independent", "size": "independent"}}, "spacing": 14, "vconcat": [
      {"bounds": "flush", "columns": 3, "spacing": {"row": 16, "column": 30}, "concat": [
        {"width": 100, "height": 89, "title": {"text": "D", "anchor": "start", "frame": "group", "dx": -39, "offset": -4.5}, "layer": [
          {"data": {"name": "klf3"}, "mark": {"type": "circle", "size": 42, "opacity": 1, "stroke": "white", "strokeWidth": 0.6},
           "encoding": {"x": {"field": "x", "type": "quantitative", "scale": {"domain": [0, 100], "nice": false}, "axis": null},
             "y": {"field": "y", "type": "quantitative", "scale": {"domain": [-0.83, 0.74], "nice": false, "zero": false}, "axis": {"title": "Log2FC", "values": [-0.8, -0.4, 0, 0.4], "format": ".1f"}},
             "color": {"field": "grp", "type": "nominal", "scale": {"domain": ["Polyp", "CRC"], "range": ["#7f2a8f", "#d6261f"]}, "legend": null}}},
          {"data": {"values": [{"label": "KLF3", "x": 3, "y": 0.73}]}, "mark": {"type": "text", "align": "left", "baseline": "top", "color": "#111"},
           "encoding": {"x": {"field": "x", "type": "quantitative"}, "y": {"field": "y", "type": "quantitative"}, "text": {"field": "label"}}},
          {"data": {"values": [{"grp": "Polyp", "x": 98, "y": 0.61}, {"grp": "CRC", "x": 98, "y": 0.44}]}, "mark": {"type": "text", "align": "right", "baseline": "middle", "fontSize": 8.7},
           "encoding": {"x": {"field": "x", "type": "quantitative"}, "y": {"field": "y", "type": "quantitative"}, "text": {"field": "grp"}, "color": {"field": "grp", "type": "nominal"}}}
        ]},
        {"width": 100, "height": 89, "layer": [
          {"data": {"name": "klf4"}, "mark": {"type": "circle", "size": 42, "opacity": 1, "stroke": "white", "strokeWidth": 0.6},
           "encoding": {"x": {"field": "x", "type": "quantitative", "scale": {"domain": [0, 100], "nice": false}, "axis": null},
             "y": {"field": "y", "type": "quantitative", "scale": {"domain": [-0.436, 0.853], "nice": false, "zero": false}, "axis": {"title": null, "values": [-0.4, 0, 0.4, 0.8], "format": ".1f"}},
             "color": {"field": "grp", "type": "nominal", "scale": {"domain": ["Polyp", "CRC"], "range": ["#7f2a8f", "#d6261f"]}, "legend": null}}},
          {"data": {"values": [{"label": "KLF4", "x": 97, "y": 0.835}]}, "mark": {"type": "text", "align": "right", "baseline": "top", "color": "#111"},
           "encoding": {"x": {"field": "x", "type": "quantitative"}, "y": {"field": "y", "type": "quantitative"}, "text": {"field": "label"}}}
        ]},
        {"width": 97, "height": 89, "layer": [
          {"data": {"name": "klf5"}, "mark": {"type": "circle", "size": 42, "opacity": 1, "stroke": "white", "strokeWidth": 0.6},
           "encoding": {"x": {"field": "x", "type": "quantitative", "scale": {"domain": [0, 100], "nice": false}, "axis": null},
             "y": {"field": "y", "type": "quantitative", "scale": {"domain": [-0.93, 0.545], "nice": false, "zero": false}, "axis": {"title": null, "values": [-0.5, 0, 0.5], "format": ".1f"}},
             "color": {"field": "grp", "type": "nominal", "scale": {"domain": ["Polyp", "CRC"], "range": ["#7f2a8f", "#d6261f"]}, "legend": null}}},
          {"data": {"values": [{"label": "KLF5", "x": 97, "y": 0.525}]}, "mark": {"type": "text", "align": "right", "baseline": "top", "color": "#111"},
           "encoding": {"x": {"field": "x", "type": "quantitative"}, "y": {"field": "y", "type": "quantitative"}, "text": {"field": "label"}}}
        ]},
        {"width": 100, "height": 91, "layer": [
          {"data": {"name": "klf9"}, "mark": {"type": "circle", "size": 42, "opacity": 1, "stroke": "white", "strokeWidth": 0.6},
           "encoding": {"x": {"field": "x", "type": "quantitative", "scale": {"domain": [0, 100], "nice": false}, "axis": {"title": "Malignancy Continuum", "labels": false, "ticks": false, "titlePadding": 6}},
             "y": {"field": "y", "type": "quantitative", "scale": {"domain": [-0.54, 0.128], "nice": false, "zero": false}, "axis": {"title": "Log2FC", "values": [-0.4, -0.2, 0], "format": ".1f"}},
             "color": {"field": "grp", "type": "nominal", "scale": {"domain": ["Polyp", "CRC"], "range": ["#7f2a8f", "#d6261f"]}, "legend": null}}},
          {"data": {"values": [{"label": "KLF9", "x": 97, "y": 0.112}]}, "mark": {"type": "text", "align": "right", "baseline": "top", "color": "#111"},
           "encoding": {"x": {"field": "x", "type": "quantitative"}, "y": {"field": "y", "type": "quantitative"}, "text": {"field": "label"}}}
        ]},
        {"width": 100, "height": 91, "layer": [
          {"data": {"name": "klf12"}, "mark": {"type": "circle", "size": 42, "opacity": 1, "stroke": "white", "strokeWidth": 0.6},
           "encoding": {"x": {"field": "x", "type": "quantitative", "scale": {"domain": [0, 100], "nice": false}, "axis": {"title": "Malignancy Continuum", "labels": false, "ticks": false, "titlePadding": 6}},
             "y": {"field": "y", "type": "quantitative", "scale": {"domain": [-1.63, 0.095], "nice": false, "zero": false}, "axis": {"title": null, "values": [-1.5, -1, -0.5, 0], "format": ".1f"}},
             "color": {"field": "grp", "type": "nominal", "scale": {"domain": ["Polyp", "CRC"], "range": ["#7f2a8f", "#d6261f"]}, "legend": null}}},
          {"data": {"values": [{"label": "KLF12", "x": 3, "y": -1.6}]}, "mark": {"type": "text", "align": "left", "baseline": "bottom", "color": "#111"},
           "encoding": {"x": {"field": "x", "type": "quantitative"}, "y": {"field": "y", "type": "quantitative"}, "text": {"field": "label"}}}
        ]},
        {"width": 97, "height": 91, "layer": [
          {"data": {"name": "klf7"}, "mark": {"type": "circle", "size": 42, "opacity": 1, "stroke": "white", "strokeWidth": 0.6},
           "encoding": {"x": {"field": "x", "type": "quantitative", "scale": {"domain": [0, 100], "nice": false}, "axis": {"title": "Malignancy Continuum", "labels": false, "ticks": false, "titlePadding": 6}},
             "y": {"field": "y", "type": "quantitative", "scale": {"domain": [-0.29, 0.767], "nice": false, "zero": false}, "axis": {"title": null, "values": [-0.25, 0, 0.25, 0.5, 0.75], "format": ".2f"}},
             "color": {"field": "grp", "type": "nominal", "scale": {"domain": ["Polyp", "CRC"], "range": ["#7f2a8f", "#d6261f"]}, "legend": null}}},
          {"data": {"values": [{"label": "KLF7", "x": 97, "y": -0.27}]}, "mark": {"type": "text", "align": "right", "baseline": "bottom", "color": "#111"},
           "encoding": {"x": {"field": "x", "type": "quantitative"}, "y": {"field": "y", "type": "quantitative"}, "text": {"field": "label"}}}
        ]}
      ]},
      {"bounds": "flush", "spacing": 27, "hconcat": [
        {"width": 101, "height": 90, "title": {"text": "F", "anchor": "start", "frame": "group", "dx": -39, "offset": -9}, "layer": [
          {"data": {"name": "sdc1"}, "mark": {"type": "circle", "size": 42, "opacity": 1, "stroke": "white", "strokeWidth": 0.6},
           "encoding": {"x": {"field": "x", "type": "quantitative", "scale": {"domain": [0, 100], "nice": false}, "axis": {"title": "Malignancy Continuum", "labels": false, "ticks": false, "titlePadding": 6}},
             "y": {"field": "y", "type": "quantitative", "scale": {"domain": [-0.319, 1.186], "nice": false, "zero": false}, "axis": {"title": "Log2FC", "values": [0, 0.4, 0.8], "format": ".1f"}},
             "color": {"field": "grp", "type": "nominal", "scale": {"domain": ["Polyp", "CRC"], "range": ["#7f2a8f", "#d6261f"]}, "legend": null}}},
          {"data": {"values": [{"label": "SDC1", "x": 3, "y": 1.16}]}, "mark": {"type": "text", "align": "left", "baseline": "top", "color": "#111"},
           "encoding": {"x": {"field": "x", "type": "quantitative"}, "y": {"field": "y", "type": "quantitative"}, "text": {"field": "label"}}},
          {"data": {"values": [{"grp": "Polyp", "x": 98.5, "y": -0.084}, {"grp": "CRC", "x": 98.5, "y": -0.235}]}, "mark": {"type": "text", "align": "right", "baseline": "middle", "fontSize": 8.7},
           "encoding": {"x": {"field": "x", "type": "quantitative"}, "y": {"field": "y", "type": "quantitative"}, "text": {"field": "grp"}, "color": {"field": "grp", "type": "nominal"}}}
        ]},
        {"width": 104, "height": 90, "layer": [
          {"data": {"name": "sdc4"}, "mark": {"type": "circle", "size": 42, "opacity": 1, "stroke": "white", "strokeWidth": 0.6},
           "encoding": {"x": {"field": "x", "type": "quantitative", "scale": {"domain": [0, 100], "nice": false}, "axis": {"title": "Malignancy Continuum", "labels": false, "ticks": false, "titlePadding": 6}},
             "y": {"field": "y", "type": "quantitative", "scale": {"domain": [-0.3, 2.04], "nice": false, "zero": false}, "axis": {"title": null, "values": [0, 0.5, 1, 1.5, 2], "format": ".1f"}},
             "color": {"field": "grp", "type": "nominal", "scale": {"domain": ["Polyp", "CRC"], "range": ["#7f2a8f", "#d6261f"]}, "legend": null}}},
          {"data": {"values": [{"label": "SDC4", "x": 3, "y": 2.0}]}, "mark": {"type": "text", "align": "left", "baseline": "top", "color": "#111"},
           "encoding": {"x": {"field": "x", "type": "quantitative"}, "y": {"field": "y", "type": "quantitative"}, "text": {"field": "label"}}}
        ]},
        {"width": 98, "height": 90, "layer": [
          {"data": {"name": "rpsa"}, "mark": {"type": "circle", "size": 42, "opacity": 1, "stroke": "white", "strokeWidth": 0.6},
           "encoding": {"x": {"field": "x", "type": "quantitative", "scale": {"domain": [0, 100], "nice": false}, "axis": {"title": "Malignancy Continuum", "labels": false, "ticks": false, "titlePadding": 6}},
             "y": {"field": "y", "type": "quantitative", "scale": {"domain": [-0.52, 1.83], "nice": false, "zero": false}, "axis": {"title": null, "values": [-0.5, 0, 0.5, 1, 1.5], "format": ".1f"}},
             "color": {"field": "grp", "type": "nominal", "scale": {"domain": ["Polyp", "CRC"], "range": ["#7f2a8f", "#d6261f"]}, "legend": null}}},
          {"data": {"values": [{"label": "RPSA", "x": 3, "y": 1.79}]}, "mark": {"type": "text", "align": "left", "baseline": "top", "color": "#111"},
           "encoding": {"x": {"field": "x", "type": "quantitative"}, "y": {"field": "y", "type": "quantitative"}, "text": {"field": "label"}}}
        ]}
      ]}
    ]},
    {"resolve": {"scale": {"color": "independent", "size": "independent"}}, "spacing": 5, "vconcat": [
      {"width": 115, "height": 134,
       "title": {"text": "E", "anchor": "start", "frame": "group", "dx": -59, "offset": -1},
       "data": {"name": "e"},
       "mark": {"type": "circle", "opacity": 1},
       "encoding": {
         "x": {"field": "gene", "type": "nominal", "sort": ["KLF3","KLF4","KLF5","KLF9","KLF12","KLF7"], "scale": {"type": "point", "padding": 0.75}, "axis": {"title": null, "labelAngle": -45, "labelFontSize": 8.3}},
         "y": {"field": "cell", "type": "nominal", "sort": ["Enterocytes","TA1","TA2","CyclingTA","Stem"], "scale": {"type": "point", "padding": 0.53}, "axis": {"title": null, "labelFontSize": 8.3}},
         "size": {"field": "pct", "type": "quantitative", "scale": {"type": "pow", "exponent": 2, "domain": [0, 70], "range": [0, 711]}, "legend": {"title": "Percent Expressed", "orient": "none", "legendX": 126, "legendY": 53, "values": [20, 40, 60], "symbolFillColor": "black", "symbolStrokeColor": "black", "symbolStrokeWidth": 0, "titleAnchor": "middle", "rowPadding": 4, "labelOffset": 6, "titlePadding": 8}},
         "color": {"field": "avg", "type": "quantitative", "scale": {"domain": [1.19, 0.7, 0.2, -0.5, -1.26], "range": ["#f2240e", "#ee8a22", "#e8c43a", "#9cbb9a", "#3ea8c8"]}, "legend": {"title": "Average Expression", "orient": "none", "legendX": 124, "legendY": 0, "direction": "horizontal", "values": [1, 0, -1], "gradientLength": 63, "gradientThickness": 12, "labelOffset": -20, "titlePadding": 19, "titleAnchor": "middle", "titleFontSize": 8.3}}
       }},
      {"bounds": "flush", "spacing": 73, "resolve": {"scale": {"color": "independent", "size": "independent"}}, "hconcat": [
        {"width": 1, "height": 1, "view": {"stroke": null}, "data": {"values": [{"s": 0}]}, "mark": {"type": "point", "opacity": 0}, "encoding": {}},
        {"width": 62, "height": 144,
         "title": {"text": "G", "anchor": "start", "frame": "group", "dx": -123, "offset": -10},
         "data": {"name": "g"},
         "mark": {"type": "circle", "opacity": 1},
         "encoding": {
           "x": {"field": "gene", "type": "nominal", "sort": ["ADAM12","THBS2","THBS1","LAMA2","LAMA1"], "scale": {"type": "point", "padding": 0.62}, "axis": {"title": null, "labelAngle": -45, "labelFontSize": 8, "tickSize": 2}},
           "y": {"field": "cell", "type": "nominal", "sort": ["Unknown","Neurons","Glia","Adipocytes","Lymphatic endothelial cells","Endothelial","Pericytes","Crypt Fibroblasts 4","Crypt Fibroblasts 3","Crypt Fibroblasts 2","Crypt Fibroblasts 1","Myofibroblasts 3","Myofibroblasts 2","Myofibroblasts 1","Villus Fibroblasts WNT5B+","Cancer Associated Fibroblasts"], "scale": {"type": "point", "padding": 0.55}, "axis": {"title": null, "labelFontSize": 8.2, "tickSize": 2, "labelPadding": 1}},
           "size": {"field": "pct", "type": "quantitative", "scale": {"type": "pow", "exponent": 2, "domain": [0, 105], "range": [0, 70]}, "legend": {"title": ["Percent", "Expressed"], "orient": "none", "legendX": 72, "legendY": -4.5, "values": [0, 20, 40, 60, 80], "symbolFillColor": "black", "symbolStrokeColor": "black", "symbolStrokeWidth": 0, "titleAnchor": "middle", "rowPadding": 3, "labelFontSize": 7.8, "titleFontSize": 7.8, "titlePadding": 2}},
           "color": {"field": "avg", "type": "quantitative", "scale": {"domain": [-1, -0.625, -0.25, 0.125, 0.5, 0.875, 1.25, 1.625, 2], "range": ["#352a87", "#0f5cdd", "#1481d6", "#06a4ca", "#2eb7a4", "#87bf77", "#d1bb59", "#fec832", "#f9fb0e"]}, "legend": {"title": ["Average", "Expression"], "orient": "none", "legendX": 70, "legendY": 76, "values": [0, 1, 2], "gradientLength": 52, "gradientThickness": 10, "titleAnchor": "middle", "direction": "vertical", "labelFontSize": 7.8, "titleFontSize": 7.8, "titlePadding": 7}}
         }}
      ]}
    ]}
  ]}
]
}
